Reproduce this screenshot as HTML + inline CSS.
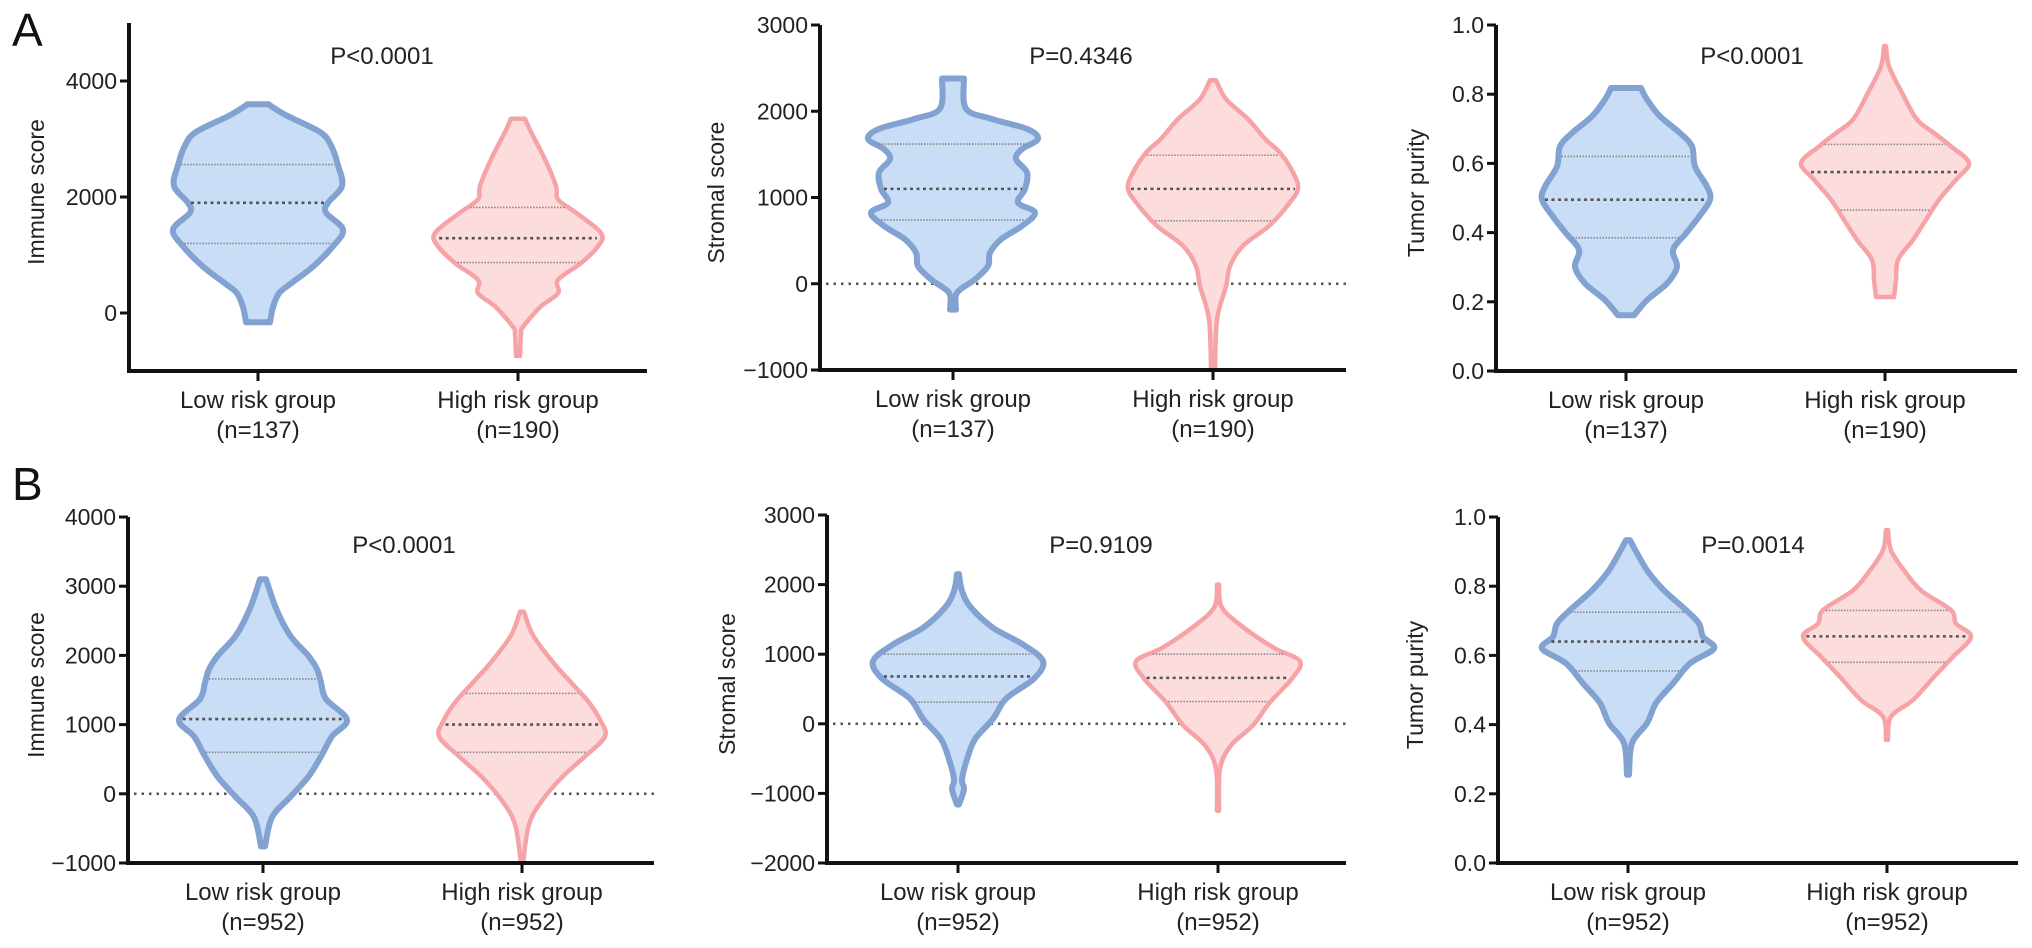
<!DOCTYPE html>
<html><head><meta charset="utf-8">
<style>
html,body{margin:0;padding:0;background:#fff;}
svg{display:block;font-family:"Liberation Sans",Arial,sans-serif;}
</style></head>
<body>
<svg id="fig" width="2032" height="948" viewBox="0 0 2032 948" xmlns="http://www.w3.org/2000/svg">
<text x="12" y="46" font-size="46" fill="#111">A</text>
<text x="12" y="500" font-size="46" fill="#111">B</text>
</svg>
<script>
// ---- data ----
const categories = ["Low risk group", "High risk group"];
const nLabelsA = ["(n=137)", "(n=190)"];
const nLabelsB = ["(n=952)", "(n=952)"];
const yTitles = ["Immune score", "Stromal score", "Tumor purity"];
const pValues = ["P<0.0001", "P=0.4346", "P<0.0001", "P<0.0001", "P=0.9109", "P=0.0014"];
const ticksA1 = [0, 2000, 4000];
const ticksA2 = [-1000, 0, 1000, 2000, 3000];
const ticksA3 = [0.0, 0.2, 0.4, 0.6, 0.8, 1.0];
const ticksB1 = [-1000, 0, 1000, 2000, 3000, 4000];
const ticksB2 = [-2000, -1000, 0, 1000, 2000, 3000];
const ticksB3 = [0.0, 0.2, 0.4, 0.6, 0.8, 1.0];
const tickLabelsA3 = ["0.0","0.2","0.4","0.6","0.8","1.0"];
// violin profiles: value levels (top to bottom) and density (half-width)
const a1LowVals = [3600,3580,3410,3120,2890,2550,2190,1900,1730,1440,1150,800,510,340,100,-160];
const a1LowDens = [11,12,28,62,73,80,84,70,68,85,75,55,33,21,15,12];
const a1LowQuart = [1200,1900,2560];
const a1HighVals = [3350,3120,2650,2190,1960,1730,1380,1150,860,570,340,100,-240,-360,-740];
const a1HighDens = [7,13,27,38,40,58,83,80,63,40,40,22,5,3,2];
const a1HighQuart = [870,1290,1820];
const a2LowVals = [2380,2030,1910,1795,1680,1560,1445,1290,1100,940,825,670,515,360,205,50,-105,-300];
const a2LowDens = [11,13,39,74,85,69,63,74,72,65,82,69,48,37,35,22,4,3];
const a2LowQuart = [740,1100,1620];
const a2HighVals = [2360,2140,1910,1680,1520,1290,1100,900,670,440,205,-30,-415,-1000];
const a2HighDens = [3,13,35,52,67,80,85,74,56,30,17,13,4,2];
const a2HighQuart = [730,1100,1490];
const a3LowVals = [0.818,0.785,0.736,0.688,0.649,0.591,0.533,0.495,0.446,0.398,0.350,0.301,0.253,0.205,0.161];
const a3LowDens = [15,21,34,54,66,69,81,84,73,60,47,51,41,21,8];
const a3LowQuart = [0.385,0.495,0.62];
const a3HighVals = [0.939,0.881,0.804,0.727,0.688,0.649,0.601,0.553,0.495,0.437,0.379,0.321,0.263,0.214];
const a3HighDens = [1,4,17,32,49,66,84,71,54,41,28,13,11,9];
const a3HighQuart = [0.465,0.575,0.655];
const b1LowVals = [3100,2680,2290,2000,1800,1610,1370,1070,830,540,240,-50,-340,-760];
const b1LowDens = [3,13,27,45,54,58,63,84,69,58,45,27,9,2];
const b1LowQuart = [600,1080,1660];
const b1HighVals = [2630,2290,1900,1610,1320,1070,830,540,240,-100,-440,-1000];
const b1HighDens = [2,11,31,49,67,78,83,63,40,20,7,1];
const b1HighQuart = [600,1000,1450];
const b2LowVals = [2150,1910,1670,1380,1140,900,650,360,70,-220,-510,-800,-940,-1160];
const b2LowDens = [1,4,13,35,65,85,76,48,35,17,9,4,6,1];
const b2LowQuart = [310,680,1000];
const b2HighVals = [2000,1670,1380,1090,900,650,310,-20,-310,-650,-1250];
const b2HighDens = [1,4,26,56,82,74,52,35,13,2,1];
const b2HighQuart = [320,660,1000];
const b3LowVals = [0.933,0.846,0.788,0.731,0.692,0.654,0.620,0.577,0.519,0.462,0.404,0.346,0.255];
const b3LowDens = [2,19,36,58,71,75,86,62,45,28,19,4,1];
const b3LowQuart = [0.555,0.64,0.725];
const b3HighVals = [0.962,0.904,0.846,0.788,0.731,0.692,0.654,0.596,0.538,0.471,0.423,0.356];
const b3HighDens = [1,4,17,34,64,69,84,66,47,26,4,1];
const b3HighQuart = [0.58,0.655,0.73];

// ---- layout ----
const NS = "http://www.w3.org/2000/svg";
const svg = document.getElementById("fig");
function mk(tag, attrs, parent){
  const e = document.createElementNS(NS, tag);
  for (const k in attrs) e.setAttribute(k, attrs[k]);
  (parent||svg).appendChild(e);
  return e;
}
const panels = [
  {id:"a1", ax:129, top:23, bottom:371, right:647, yMin:-1000, yMax:5000, ticks:ticksA1, cx:[258,518], title:yTitles[0], tx:36, p:pValues[0], px:382, py:64, n:nLabelsA, zero:false,
   low:[a1LowVals,a1LowDens,a1LowQuart], high:[a1HighVals,a1HighDens,a1HighQuart], fmt:null},
  {id:"a2", ax:820, top:25, bottom:370, right:1346, yMin:-1000, yMax:3000, ticks:ticksA2, cx:[953,1213], title:yTitles[1], tx:716, p:pValues[1], px:1081, py:64, n:nLabelsA, zero:true,
   low:[a2LowVals,a2LowDens,a2LowQuart], high:[a2HighVals,a2HighDens,a2HighQuart], fmt:null},
  {id:"a3", ax:1496, top:25, bottom:371, right:2017, yMin:0, yMax:1, ticks:ticksA3, cx:[1626,1885], title:yTitles[2], tx:1416, p:pValues[2], px:1752, py:64, n:nLabelsA, zero:false,
   low:[a3LowVals,a3LowDens,a3LowQuart], high:[a3HighVals,a3HighDens,a3HighQuart], fmt:tickLabelsA3},
  {id:"b1", ax:128, top:517, bottom:863, right:654, yMin:-1000, yMax:4000, ticks:ticksB1, cx:[263,522], title:yTitles[0], tx:36, p:pValues[3], px:404, py:553, n:nLabelsB, zero:true,
   low:[b1LowVals,b1LowDens,b1LowQuart], high:[b1HighVals,b1HighDens,b1HighQuart], fmt:null},
  {id:"b2", ax:827, top:515, bottom:863, right:1346, yMin:-2000, yMax:3000, ticks:ticksB2, cx:[958,1218], title:yTitles[1], tx:727, p:pValues[4], px:1101, py:553, n:nLabelsB, zero:true,
   low:[b2LowVals,b2LowDens,b2LowQuart], high:[b2HighVals,b2HighDens,b2HighQuart], fmt:null},
  {id:"b3", ax:1498, top:517, bottom:863, right:2018, yMin:0, yMax:1, ticks:ticksB3, cx:[1628,1887], title:yTitles[2], tx:1415, p:pValues[5], px:1753, py:553, n:nLabelsB, zero:false,
   low:[b3LowVals,b3LowDens,b3LowQuart], high:[b3HighVals,b3HighDens,b3HighQuart], fmt:tickLabelsA3}
];
const styles = [
  {fill:"#c9ddf6", stroke:"#82a2d2", sw:6},
  {fill:"#fddcdd", stroke:"#f6a3a7", sw:4.5}
];
function catmull(pts){
  let d = "M"+pts[0][0]+","+pts[0][1];
  for (let i=0;i<pts.length-1;i++){
    const p0=pts[Math.max(0,i-1)], p1=pts[i], p2=pts[i+1], p3=pts[Math.min(pts.length-1,i+2)];
    const c1=[p1[0]+(p2[0]-p0[0])/6, p1[1]+(p2[1]-p0[1])/6];
    const c2=[p2[0]-(p3[0]-p1[0])/6, p2[1]-(p3[1]-p1[1])/6];
    d += " C"+c1[0].toFixed(1)+","+c1[1].toFixed(1)+" "+c2[0].toFixed(1)+","+c2[1].toFixed(1)+" "+p2[0].toFixed(1)+","+p2[1].toFixed(1);
  }
  return d;
}
function densAt(vals, dens, v){
  for (let i=0;i<vals.length-1;i++){
    if (v<=vals[i] && v>=vals[i+1]){
      const t=(vals[i]-v)/(vals[i]-vals[i+1]);
      return dens[i]+(dens[i+1]-dens[i])*t;
    }
  }
  return 0;
}
panels.forEach(P=>{
  const g = mk("g", {});
  
  
  const y = v => P.bottom - (v-P.yMin)/(P.yMax-P.yMin)*(P.bottom-P.top);
  // zero line
  if (P.zero){
    const zl = mk("line", {x1:P.ax+6, x2:P.right, y1:y(0), y2:y(0), stroke:"#555", "stroke-width":2.5, "stroke-dasharray":"2.5 5"}, g);
    
    
  }
  // violins
  [P.low, P.high].forEach((vd, k)=>{
    const [vals, dens, quart] = vd;
    const cx = P.cx[k], st = styles[k];
    const right = vals.map((v,i)=>[cx+dens[i], y(v)]);
    const left = vals.map((v,i)=>[cx-dens[i], y(v)]).reverse();
    const d = catmull(right) + " L" + left[0][0].toFixed(1)+","+left[0][1].toFixed(1) + catmull(left).slice(catmull(left).indexOf(" C")) + " Z";
    const path = mk("path", {d:d, fill:st.fill, stroke:st.stroke, "stroke-width":st.sw, "stroke-linejoin":"round"}, g);
    
    
    quart.forEach((q, qi)=>{
      const w = densAt(vals, dens, q) - 3;
      const med = qi===1;
      const ln = mk("line", {x1:cx-w, x2:cx+w, y1:y(q), y2:y(q), stroke: med?"#555":"#888", "stroke-width": med?2.6:1.6, "stroke-dasharray": med?"3 3.5":"1.5 1.5"}, g);
      
      
    });
  });
  // axes
  const ya = mk("line", {x1:P.ax, x2:P.ax, y1:P.top, y2:P.bottom+2, stroke:"#111", "stroke-width":4}, g);
  
  
  const xa = mk("line", {x1:P.ax-2, x2:P.right, y1:P.bottom, y2:P.bottom, stroke:"#111", "stroke-width":4}, g);
  
  
  P.ticks.forEach((t,i)=>{
    const tk = mk("line", {x1:P.ax-9, x2:P.ax, y1:y(t), y2:y(t), stroke:"#111", "stroke-width":3}, g);
    
    
    const lab = mk("text", {x:P.ax-12, y:y(t)+8, "text-anchor":"end", "font-size":23, fill:"#222"}, g);
    lab.textContent = P.fmt ? P.fmt[i] : (t<0 ? "\u2212"+Math.abs(t) : String(t));
    
    
  });
  P.cx.forEach((cx,i)=>{
    const tk = mk("line", {x1:cx, x2:cx, y1:P.bottom, y2:P.bottom+10, stroke:"#111", "stroke-width":3}, g);
    
    
    const l1 = mk("text", {x:cx, y:P.bottom+37, "text-anchor":"middle", "font-size":24, fill:"#222"}, g);
    l1.textContent = categories[i];
    
    
    const l2 = mk("text", {x:cx, y:P.bottom+67, "text-anchor":"middle", "font-size":24, fill:"#222"}, g);
    l2.textContent = P.n[i];
    
    
  });
  const ty = (P.top+P.bottom)/2 - 5;
  const tt = mk("text", {x:P.tx, y:ty, "text-anchor":"middle", "font-size":23, fill:"#222", transform:"rotate(-90 "+P.tx+" "+ty+")", dy:"8"}, g);
  tt.textContent = P.title;
  
  
  const pt = mk("text", {x:P.px, y:P.py, "text-anchor":"middle", "font-size":24, fill:"#222"}, g);
  pt.textContent = P.p;
  
  
});
</script>
</body></html>
